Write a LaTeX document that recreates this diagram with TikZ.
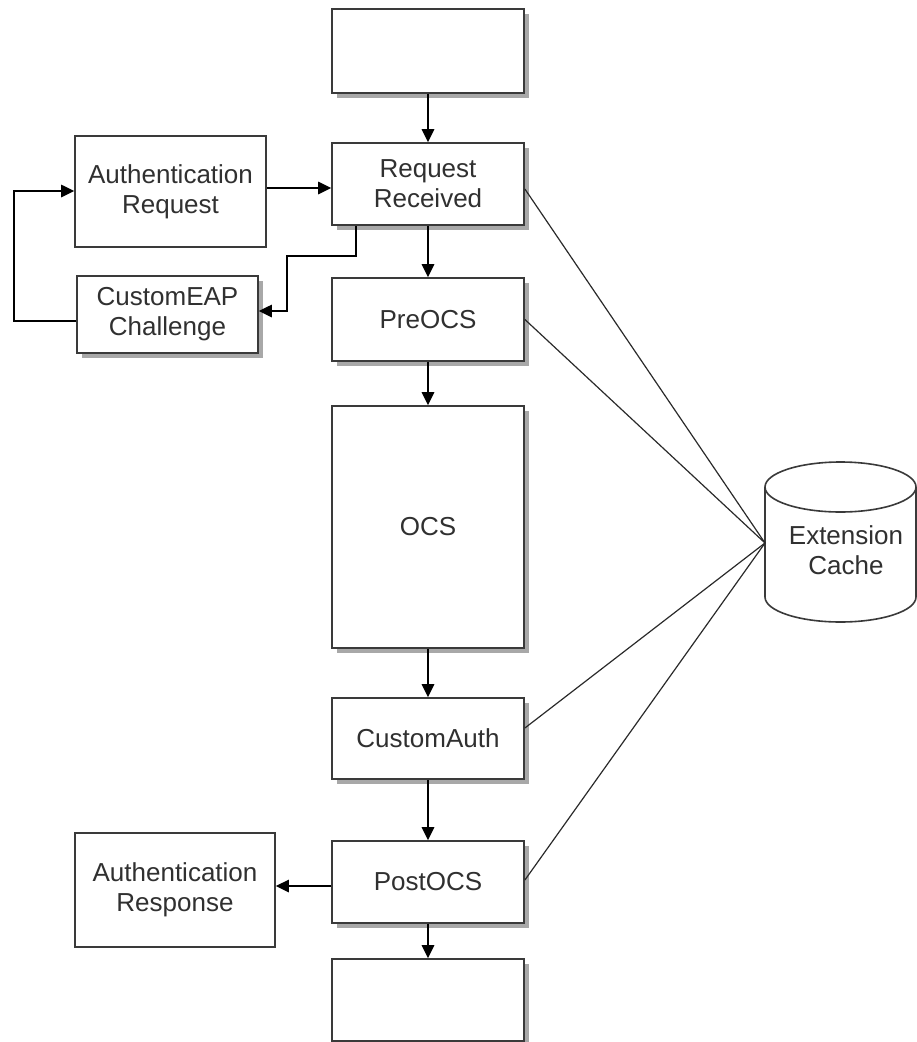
\documentclass[tikz,border=0pt]{standalone}
\usepackage{fontspec}
\setmainfont{Liberation Sans}
\usetikzlibrary{arrows.meta,shadows}
\definecolor{boxline}{HTML}{3A3A3A}
\definecolor{txt}{HTML}{303030}
\definecolor{shade}{HTML}{A8A8A8}
\definecolor{linkc}{HTML}{2A2A2A}
\begin{document}
\begin{tikzpicture}[x=1pt,y=-1pt,
  label font/.style={font=\fontsize{26}{30}\selectfont, text=txt, align=center},
  plainbox/.style={draw=boxline, line width=1.8pt, fill=white, inner sep=0pt, label font},
  stage/.style={plainbox, minimum width=192pt,
    drop shadow={shadow xshift=4.5pt, shadow yshift=-4.5pt, fill=shade, opacity=1}},
  flow/.style={draw=black, line width=1.5pt, -{Triangle[length=13pt,width=12.5pt]}},
  link/.style={draw=linkc, line width=1.2pt}]
\useasboundingbox (0,0) rectangle (917,1042);

% main processing column
\node[stage, minimum height=84pt] (start)  at (428,51)    {};
\node[stage, minimum height=82pt] (recv)   at (428,184)   {Request\\Received};
\node[stage, minimum height=83pt] (pre)    at (428,319.5) {PreOCS};
\node[stage, minimum height=242pt] (ocs)   at (428,527)   {OCS};
\node[stage, minimum height=81pt] (cauth)  at (428,738.5) {CustomAuth};
\node[stage, minimum height=82pt] (post)   at (428,882)   {PostOCS};
\node[stage, minimum height=82pt] (finish) at (428,1000)  {};

% side boxes
\node[plainbox, minimum width=191pt, minimum height=111pt] (areq) at (170.5,191.5) {Authentication\\Request};
\node[stage, minimum width=181pt, minimum height=77pt] (eap) at (167.5,314.5) {CustomEAP\\Challenge};
\node[plainbox, minimum width=200pt, minimum height=114pt] (aresp) at (175,890) {Authentication\\Response};

% extension cache cylinder
\draw[draw=boxline, line width=1.6pt, fill=white]
  (765,487) -- (765,597) arc[start angle=180, end angle=0, x radius=75.5, y radius=25] -- (916,487);
\draw[draw=boxline, line width=1.6pt, fill=white] (840.5,487) ellipse[x radius=75.5, y radius=25];
\node[label font, inner sep=0pt] (cache) at (846,550) {Extension\\Cache};
\coordinate (port) at (765,543);

% flow arrows
\draw[flow] (start.south) -- (recv.north);
\draw[flow] (recv.south) -- (pre.north);
\draw[flow] (pre.south) -- (ocs.north);
\draw[flow] (ocs.south) -- (cauth.north);
\draw[flow] (cauth.south) -- (post.north);
\draw[flow] (post.south) -- (finish.north);
\draw[flow] (areq.east |- 0,188) -- (recv.west |- 0,188);
\draw[flow] (recv.south -| 356,0) -- (356,256) -| (287,311) -- (eap.east |- 0,311);
\draw[flow] (eap.west |- 0,321) -- (14,321) |- (areq.west |- 0,191);
\draw[flow] (post.west |- 0,886) -- (aresp.east |- 0,886);

% cache access lines
\draw[link] (recv.east |- 0,189) -- (port);
\draw[link] (pre.east) -- (port);
\draw[link] (cauth.east |- 0,728) -- (port);
\draw[link] (post.east |- 0,880) -- (port);
\end{tikzpicture}
\end{document}
